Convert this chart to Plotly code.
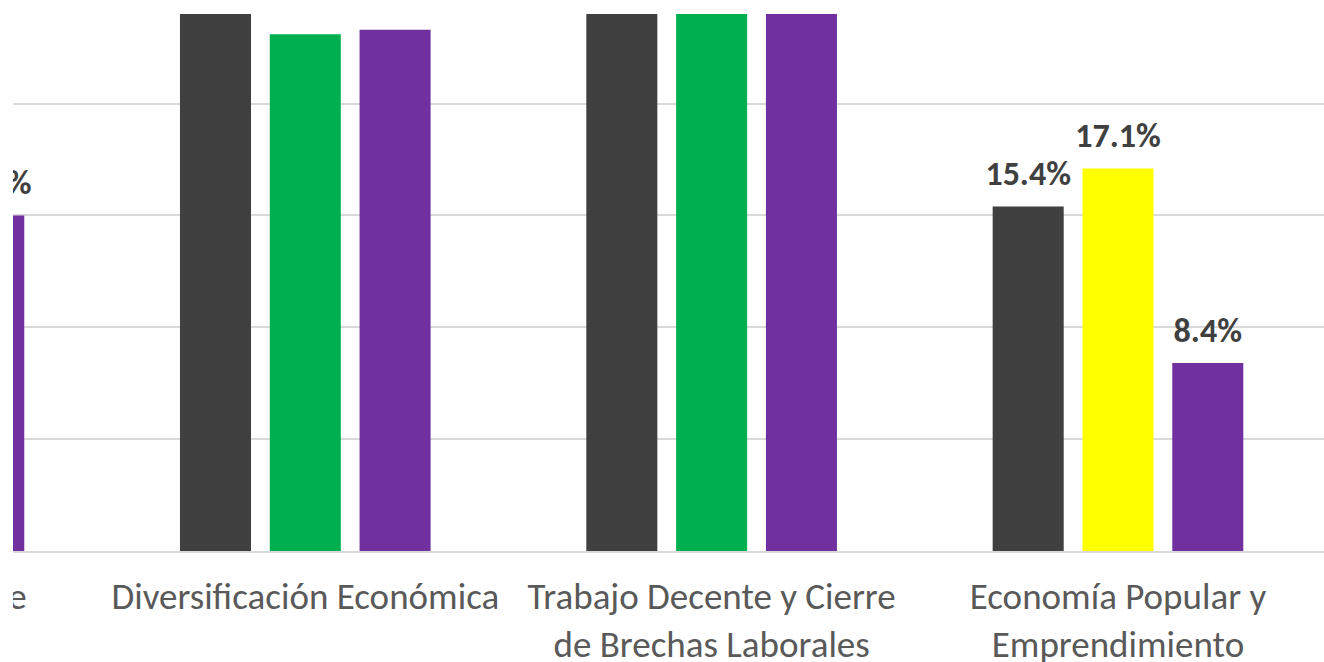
import plotly.graph_objects as go

# ---- data ----
categories = [
    "Tecnología Verde",
    "Diversificación Económica",
    "Trabajo Decente y Cierre<br>de Brechas Laborales",
    "Economía Popular y<br>Emprendimiento",
]
series_names = ["Serie 1", "Serie 2", "Serie 3"]
dark_values = [19.8, 27.6, 29.4, 15.4]
mid_values = [17.5, 23.1, 27.2, 17.1]
purple_values = [15.0, 23.3, 25.8, 8.4]
mid_colors = ["#00B050", "#00B050", "#00B050", "#FFFF00"]

# ---- styles ----
DARK = "#404040"
PURPLE = "#7030A0"
GRID = "#D9D9D9"
TICK_COLOR = "#595959"
FONT = "Calibri, Carlito, 'Open Sans', sans-serif"
CAT_SIZE = 37
LABEL_SIZE = 34
LABEL_PAD = 0.4           # gap (in axis units) between bar top and its label
X_RANGE = [0.2807, 3.507]
Y_RANGE = [0, 24]
FIG_W, FIG_H = 1324, 662
M_T, M_L = 14, 13
LABEL_ROW_PX = 111        # height of the category-label strip below the bars
LABEL_ROW_Y = 0.73        # anchor of category labels inside that strip

series = [
    (series_names[0], dark_values, DARK, "a"),
    (series_names[1], mid_values, mid_colors, "b"),
    (series_names[2], purple_values, PURPLE, "c"),
]

fig = go.Figure()
for name, vals, color, grp in series:
    fig.add_trace(go.Bar(
        x=categories, y=vals, name=name, offsetgroup=grp,
        marker=dict(color=color, line=dict(width=0)),
        showlegend=False, cliponaxis=True,
    ))
for name, vals, color, grp in series:
    fig.add_trace(go.Bar(
        x=categories, y=[LABEL_PAD] * len(vals), base=vals, offsetgroup=grp,
        marker=dict(color="rgba(0,0,0,0)", line=dict(width=0)),
        customdata=vals, texttemplate="%{customdata:.1f}%",
        textposition="outside", constraintext="none", cliponaxis=True,
        textfont=dict(family=FONT, size=LABEL_SIZE, color=DARK, weight="bold"),
        hoverinfo="skip", showlegend=False,
    ))

# category labels, drawn in a strip under the bars so they are clipped
# at the same left edge as the bars
fig.add_trace(go.Scatter(
    x=categories, y=[LABEL_ROW_Y] * len(categories), text=categories,
    mode="text", textposition="bottom center", cliponaxis=True,
    marker=dict(size=0),
    textfont=dict(family=FONT, size=CAT_SIZE, color=TICK_COLOR),
    xaxis="x2", yaxis="y2", hoverinfo="skip", showlegend=False,
))

strip = LABEL_ROW_PX / (FIG_H - M_T)
fig.update_layout(
    width=FIG_W, height=FIG_H,
    margin=dict(l=M_L, r=0, t=M_T, b=0),
    paper_bgcolor="white", plot_bgcolor="white",
    barmode="group", bargap=0.337, bargroupgap=0.209,
    xaxis=dict(
        range=X_RANGE, showgrid=False, showline=True, linecolor=GRID,
        linewidth=1.5, ticks="", showticklabels=False, automargin=False,
    ),
    yaxis=dict(
        domain=[strip, 1], range=Y_RANGE, dtick=5, showgrid=True,
        gridcolor=GRID, gridwidth=1.5, zeroline=False,
        showticklabels=False, ticks="", automargin=False,
    ),
    xaxis2=dict(
        anchor="y2", matches="x", showgrid=False, showline=False,
        zeroline=False, showticklabels=False, ticks="",
    ),
    yaxis2=dict(
        domain=[0, strip], range=[0, 1], anchor="x2", showgrid=False,
        showline=False, zeroline=False, showticklabels=False, ticks="",
    ),
)

fig.write_html(
    "out.html",
    config={"displayModeBar": False},
    post_script="document.body.style.margin='0';document.body.style.overflow='hidden';",
)
